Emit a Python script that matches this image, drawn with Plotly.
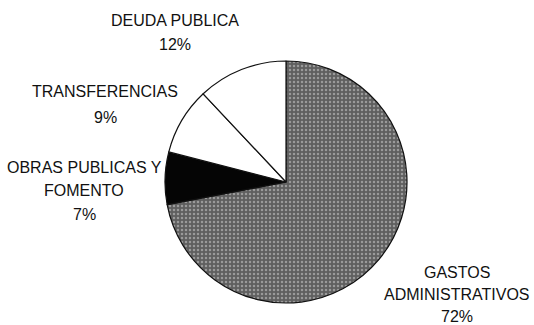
import plotly.graph_objects as go

# Data
categories = ["GASTOS<br>ADMINISTRATIVOS", "OBRAS PUBLICAS Y<br>FOMENTO", "TRANSFERENCIAS", "DEUDA PUBLICA"]
values = [72, 7, 9, 12]
slice_colors = ["#5f5f5f", "#050505", "#ffffff", "#ffffff"]
pattern_shapes = [".", "", "", ""]

W, H = 534, 325

# label anchor positions (pixel center of first line), layout only
label_pos = [(457, 272), (84, 167), (105, 92), (175, 20)]
line_gaps = [22, 23.5, 25, 24]

R = 121
CX, CY = 286, 182

fig = go.Figure()
fig.add_trace(go.Pie(
    labels=[c.replace("<br>", " ") for c in categories],
    values=values,
    sort=False,
    direction="clockwise",
    rotation=0,
    textinfo="none",
    hoverinfo="label+percent",
    marker=dict(colors=slice_colors, line=dict(color="#111111", width=1.2),
                pattern=dict(shape=pattern_shapes, bgcolor=slice_colors,
                             fgcolor="#9a9a9a", size=4, solidity=0.3)),
    domain=dict(x=[(CX - R) / W, (CX + R) / W],
                y=[(H - CY - R) / H, (H - CY + R) / H]),
    showlegend=False,
))

annotations = []
for cat, val, (px, py), gap in zip(categories, values, label_pos, line_gaps):
    lines = cat.split("<br>") + [f"{val}%"]
    for i, ln in enumerate(lines):
        y = py + i * gap
        annotations.append(dict(
            x=px / W, y=1 - y / H, xref="paper", yref="paper",
            text=ln, showarrow=False, xanchor="center", yanchor="middle",
            font=dict(family="Arial, Liberation Sans, sans-serif", size=16, color="#111111"),
        ))

fig.update_layout(
    width=W, height=H,
    margin=dict(l=0, r=0, t=0, b=0),
    paper_bgcolor="white", plot_bgcolor="white",
    annotations=annotations,
)

fig.write_html("out.html")
